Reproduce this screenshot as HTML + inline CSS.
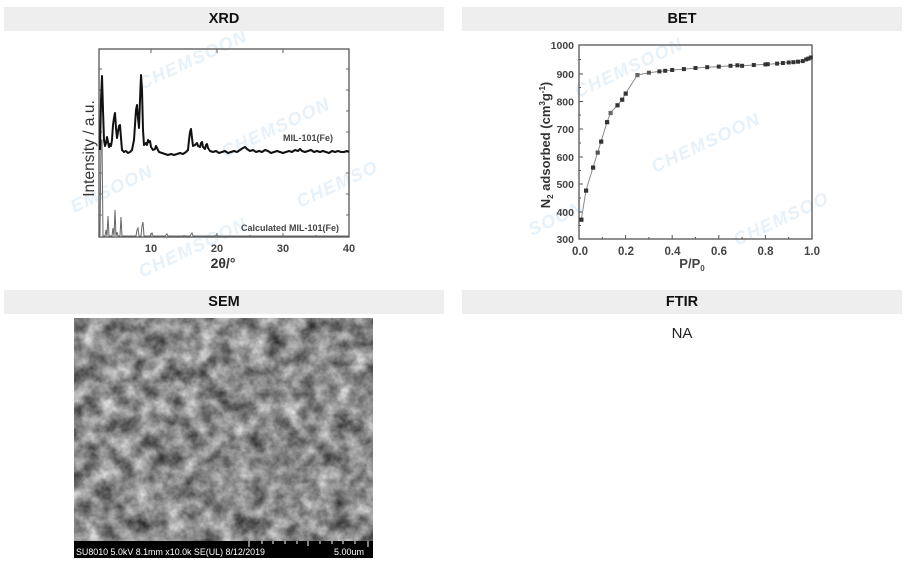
<!DOCTYPE html>
<html><head><meta charset="utf-8"><style>
html,body{margin:0;padding:0;background:#fff;width:913px;height:565px;overflow:hidden;}
.hd{position:absolute;background:#eeeeee;height:24px;line-height:24px;text-align:center;font-family:"Liberation Sans",sans-serif;font-weight:bold;font-size:14.5px;color:#111;}
svg{position:absolute;left:0;top:0;}
</style></head><body>
<div class="hd" style="left:4px;top:7px;width:440px;">XRD</div>
<div class="hd" style="left:462px;top:7px;width:440px;">BET</div>
<div class="hd" style="left:4px;top:290px;width:440px;">SEM</div>
<div class="hd" style="left:462px;top:290px;width:440px;">FTIR</div>
<div style="position:absolute;left:662px;top:325px;width:40px;text-align:center;font-family:'Liberation Sans',sans-serif;font-size:15px;color:#222;">NA</div>

<svg width="913" height="565" viewBox="0 0 913 565" xmlns="http://www.w3.org/2000/svg">
<defs>
<filter id="sem" x="0" y="0" width="100%" height="100%" color-interpolation-filters="sRGB">
<feTurbulence type="fractalNoise" baseFrequency="0.06" numOctaves="4" seed="7" result="n"/>
<feColorMatrix in="n" type="matrix" values="0.9 0 0 0 0.09  0.9 0 0 0 0.09  0.9 0 0 0 0.09  0 0 0 0 1"/>
</filter>
</defs>

<!-- watermarks -->
<g font-family="Liberation Sans,sans-serif" font-weight="bold" font-style="italic" font-size="18" fill="#e6f1fa" letter-spacing="1.5">
<text x="142" y="90" transform="rotate(-25 142 90)">CHEMSOON</text>
<text x="225" y="158" transform="rotate(-25 225 158)">CHEMSOON</text>
<text x="74" y="213" transform="rotate(-25 74 213)">EMSOON</text>
<text x="300" y="208" transform="rotate(-25 300 208)">CHEMSO</text>
<text x="142" y="278" transform="rotate(-25 142 278)">CHEMSOON</text>
<text x="578" y="98" transform="rotate(-25 578 98)">CHEMSOON</text>
<text x="655" y="173" transform="rotate(-25 655 173)">CHEMSOON</text>
<text x="532" y="236" transform="rotate(-25 532 236)">SOON</text>
<text x="737" y="246" transform="rotate(-25 737 246)">CHEMSOO</text>
</g>

<!-- XRD chart -->
<g>
<rect x="99" y="49" width="250" height="188" fill="none" stroke="#555" stroke-width="1.3"/>
<g stroke="#666" stroke-width="1">
<path d="M151,237v-4M217,237v-4M283,237v-4M118,237v-2M184,237v-2M250,237v-2M316,237v-2"/>
<path d="M151,49v4M217,49v4M283,49v4"/>
<path d="M349,69h-3M349,90h-3M349,111h-3M349,132h-3M349,152h-3M349,173h-3M349,194h-3M349,215h-3"/>
<path d="M99,69h3M99,90h3M99,111h3M99,132h3M99,173h3M99,194h3M99,215h3"/>
</g>
<path fill="none" stroke="#666" stroke-width="1" d="M100,236 L101,140 L102,140 L103,236 L105,236 L106,230 L107,236 L108,216 L109,236 L112,236 L113,228 L114,236 L115,210 L116,236 L117,232 L118,236 L120,236 L121,217 L122,236 L125,236 L136,236 L137,230 L138,228 L139,236 L141,236 L142,226 L143,222 L144,236 L150,236 L152,233 L153,236 L165,236 L167,234 L168,236 L190,236 L192,233 L193,236 L215,236 L217,235 L218,236 L349,236"/>
<path fill="none" stroke="#111" stroke-width="2" stroke-linejoin="round" d="M100,150 L101,100 L102,76 L103,110 L104,140 L105,146 L106,143 L107,137 L108,142 L109,147 L110,144 L111,146 L112,140 L113,125 L114,118 L115,113 L116,128 L117,138 L118,132 L119,126 L120,125 L121,138 L122,150 L124,152 L126,151 L128,153 L130,152 L132,150 L134,140 L135,125 L136,110 L137,105 L138,118 L139,128 L140,100 L141,75 L142,90 L143,130 L144,145 L146,143 L147,145 L148,140 L149,142 L150,141 L151,147 L153,150 L155,149 L156,146 L157,148 L159,152 L162,153 L165,154 L168,155 L171,154 L174,155 L177,154 L180,153 L183,154 L186,152 L188,150 L189,140 L190,132 L191,129 L192,138 L193,146 L195,145 L197,143 L198,146 L200,147 L201,143 L202,142 L203,147 L205,149 L206,145 L207,144 L208,148 L210,151 L213,152 L216,151 L219,153 L222,152 L225,151 L228,153 L231,152 L234,151 L237,152 L240,150 L243,148 L245,147 L247,149 L250,151 L253,150 L256,152 L259,151 L262,152 L265,150 L268,151 L271,153 L274,152 L277,151 L280,152 L283,153 L286,152 L289,151 L292,152 L295,150 L298,151 L300,149 L302,151 L305,152 L308,151 L311,150 L314,152 L317,151 L320,152 L323,151 L326,152 L329,153 L332,151 L335,152 L338,151 L341,152 L344,152 L347,151 L349,152"/>
<g font-family="Liberation Sans,sans-serif" font-weight="bold" fill="#444">
<text x="151" y="252" font-size="11" text-anchor="middle">10</text>
<text x="217" y="252" font-size="11" text-anchor="middle">20</text>
<text x="283" y="252" font-size="11" text-anchor="middle">30</text>
<text x="349" y="252" font-size="11" text-anchor="middle">40</text>
<text x="223" y="268" font-size="14" text-anchor="middle" fill="#333">2θ/°</text>
<text x="333" y="141" font-size="9" text-anchor="end">MIL-101(Fe)</text>
<text x="339" y="231" font-size="9" text-anchor="end">Calculated MIL-101(Fe)</text>
</g>
<text transform="translate(94 148.5) rotate(-90)" font-family="Liberation Sans,sans-serif" font-size="15.5" fill="#333" text-anchor="middle">Intensity / a.u.</text>
</g>

<!-- BET chart -->
<g>
<rect x="579" y="45" width="233" height="194" fill="none" stroke="#555" stroke-width="1.3"/>
<g stroke="#555" stroke-width="1">
<path d="M579,45h4M579,74h4M579,101.5h4M579,129h4M579,157h4M579,184h4M579,212h4"/>
<path d="M579,59.5h2M579,87.5h2M579,115h2M579,143h2M579,170.5h2M579,198h2M579,225.5h2"/>
<path d="M625.6,239v-4M672.2,239v-4M718.8,239v-4M765.4,239v-4M602.3,239v-2M648.9,239v-2M695.5,239v-2M742.1,239v-2M788.7,239v-2"/>
</g>
<polyline fill="none" stroke="#888" stroke-width="1" points="581.3,219.6 586,190.5 593,167.5 597.6,152.5 601.1,141.5 607,122.1 610.5,112.9 617.4,105.2 622.1,99.6 625.6,93.5 637.3,75 648.9,72.7 659.4,71.4 665.2,70.8 672.2,70 683.9,69.1 695.5,68 707.2,67.2 718.8,66.6 730.5,65.8 737.4,65.3 742.1,65.8 753.8,65 765.4,64.4 767.7,64.2 777.1,63.6 782.9,63 788.7,62.5 793.4,62.2 798,61.7 802.7,61.1 806.2,59.4 808.5,58.6 810.8,57.5"/>
<g fill="#333">
<rect x="579.3" y="217.6" width="4.2" height="4.2"/><rect x="584" y="188.5" width="4.2" height="4.2"/><rect x="591" y="165.5" width="4.2" height="4.2"/><rect x="595.6" y="150.5" width="4.2" height="4.2" fill="#555"/><rect x="599.1" y="139.5" width="4.2" height="4.2"/><rect x="605" y="120.1" width="4.2" height="4.2"/><rect x="608.5" y="110.9" width="4.2" height="4.2" fill="#666"/><rect x="615.4" y="103.2" width="4.2" height="4.2"/><rect x="620.1" y="97.6" width="4.2" height="4.2"/><rect x="623.6" y="91.5" width="4.2" height="4.2"/><rect x="635.3" y="73" width="4.2" height="4.2" fill="#666"/><rect x="646.9" y="70.7" width="4" height="4" fill="#555"/><rect x="657.4" y="69.4" width="4" height="4"/><rect x="663.2" y="68.8" width="4" height="4"/><rect x="670.2" y="68" width="4" height="4"/><rect x="681.9" y="67.1" width="4" height="4"/><rect x="693.5" y="66" width="4" height="4"/><rect x="705.2" y="65.2" width="4" height="4"/><rect x="716.8" y="64.6" width="4" height="4"/><rect x="728.5" y="63.8" width="4" height="4"/><rect x="735.4" y="63.3" width="4" height="4"/><rect x="740.1" y="63.8" width="4" height="4"/><rect x="751.8" y="63" width="4" height="4"/><rect x="763.4" y="62.4" width="4" height="4"/><rect x="765.7" y="62.2" width="4" height="4"/><rect x="775.1" y="61.6" width="4" height="4"/><rect x="780.9" y="61" width="4" height="4"/><rect x="786.7" y="60.5" width="4" height="4"/><rect x="791.4" y="60.2" width="4" height="4"/><rect x="796" y="59.7" width="4" height="4"/><rect x="800.7" y="59.1" width="4" height="4"/><rect x="804.2" y="57.4" width="4" height="4"/><rect x="806.5" y="56.6" width="4" height="4"/><rect x="808.8" y="55.5" width="4" height="4"/>
</g>
<g font-family="Liberation Sans,sans-serif" font-weight="bold" fill="#444" font-size="10.5" text-anchor="end">
<text x="574" y="49">1000</text><text x="574" y="78">900</text><text x="574" y="105.5">800</text><text x="574" y="133">700</text><text x="574" y="161">600</text><text x="574" y="188">500</text><text x="574" y="216">400</text><text x="574" y="243">300</text>
</g>
<g font-family="Liberation Sans,sans-serif" font-weight="bold" fill="#444" font-size="11.5" text-anchor="middle">
<text x="580" y="255">0.0</text><text x="626" y="255">0.2</text><text x="672.5" y="255">0.4</text><text x="719" y="255">0.6</text><text x="765.5" y="255">0.8</text><text x="812" y="255">1.0</text>
</g>
<text x="692" y="268" font-family="Liberation Sans,sans-serif" font-weight="bold" font-size="13" fill="#444" text-anchor="middle">P/P<tspan font-size="8" dy="3">0</tspan></text>
<text transform="translate(550 145) rotate(-90)" font-family="Liberation Sans,sans-serif" font-weight="bold" font-size="13" fill="#333" text-anchor="middle">N<tspan font-size="8" dy="3">2</tspan><tspan dy="-3"> adsorbed (cm</tspan><tspan font-size="8" dy="-5">3</tspan><tspan dy="5">g</tspan><tspan font-size="8" dy="-5">-1</tspan><tspan dy="5">)</tspan></text>
</g>

<!-- SEM image -->
<g>
<rect x="74" y="318" width="299" height="223" fill="#808080"/>
<rect x="74" y="318" width="299" height="223" filter="url(#sem)"/>
<rect x="74" y="541" width="299" height="17" fill="#000"/>
<g stroke="#fff" stroke-width="1">
<path d="M249,541v6M262,541v3M273,541v3M285,541v3M297,541v3M308,541v5M320,541v3M332,541v3M343,541v3M355,541v3M368,541v6"/>
</g>
<text x="76" y="555" font-family="Liberation Sans,sans-serif" font-size="9" fill="#fff" textLength="189" lengthAdjust="spacingAndGlyphs">SU8010 5.0kV 8.1mm x10.0k SE(UL) 8/12/2019</text>
<text x="334" y="555" font-family="Liberation Sans,sans-serif" font-size="9" fill="#fff" textLength="30" lengthAdjust="spacingAndGlyphs">5.00um</text>
</g>
</svg>
</body></html>
